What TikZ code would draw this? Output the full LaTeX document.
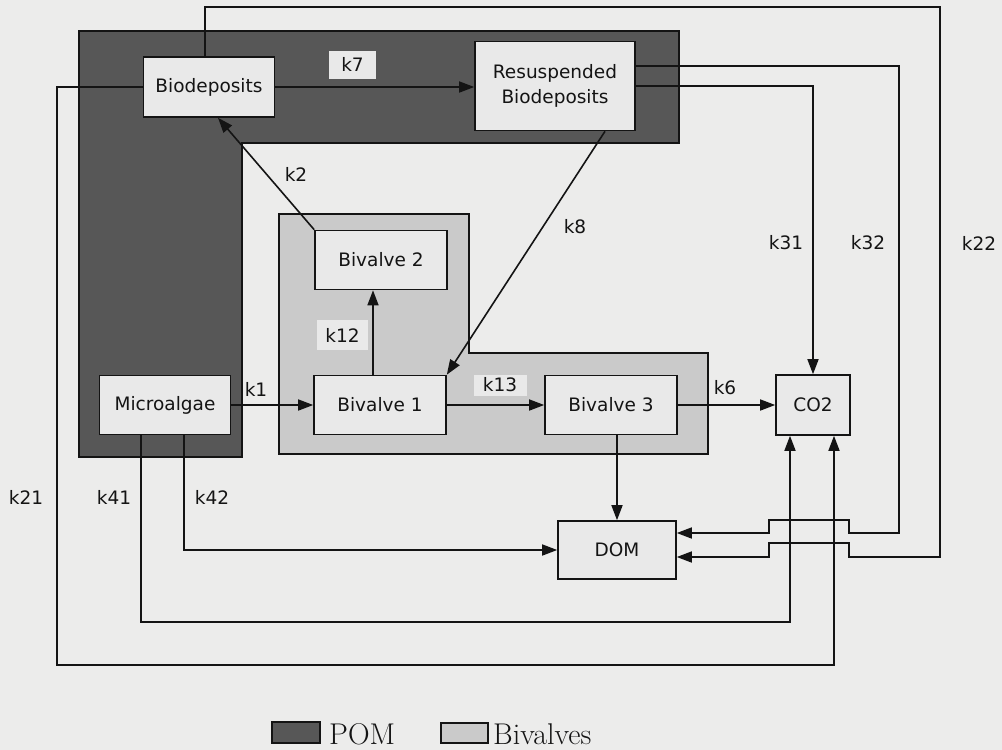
\documentclass[tikz,border=0pt]{standalone}
\usepackage{fontspec}
\setsansfont{DejaVu Sans}
\usetikzlibrary{arrows.meta}
\definecolor{bg}{HTML}{ECECEB}
\definecolor{pom}{HTML}{575757}
\definecolor{biv}{HTML}{CACACA}
\definecolor{boxf}{HTML}{E9E9E9}
\definecolor{ink}{HTML}{141414}
\begin{document}
\begin{tikzpicture}[x=1pt,y=-1pt,
  box/.style={draw=ink,line width=1.6pt,fill=boxf,font=\sffamily\fontsize{18.5}{25}\selectfont,align=center,inner sep=0pt,text=ink},
  lab/.style={font=\sffamily\fontsize{18.5}{20}\selectfont,inner sep=0pt,text=ink},
  labbg/.style={lab,fill=boxf},
  conn/.style={draw=ink,line width=1.6pt},
  arr/.style={conn,-{Triangle[length=15pt,width=11pt]}},
  region/.style={draw=ink,line width=1.4pt},
  swatch/.style={draw=ink,line width=1.5pt,inner sep=0pt}]
\useasboundingbox (0,0) rectangle (1002,750);
\fill[bg] (0,0) rectangle (1002,750);
% compartments
\draw[region,fill=pom] (79,31) -- (679,31) -- (679,143) -- (242,143) -- (242,457) -- (79,457) -- cycle;
\draw[region,fill=biv] (279,214) -- (469,214) -- (469,353) -- (708,353) -- (708,454) -- (279,454) -- cycle;
% boxes
\node[box,minimum width=131pt,minimum height=60pt] (bio) at (209,87) {Biodeposits};
\node[box,minimum width=160pt,minimum height=89pt] (res) at (555,86) {Resuspended\\Biodeposits};
\node[box,minimum width=132pt,minimum height=59pt] (bv2) at (381,260) {Bivalve 2};
\node[box,minimum width=132pt,minimum height=59pt] (bv1) at (380,405) {Bivalve 1};
\node[box,minimum width=132pt,minimum height=59pt] (bv3) at (611,405) {Bivalve 3};
\node[box,minimum width=131pt,minimum height=59pt] (mic) at (165,405) {Microalgae};
\node[box,minimum width=74pt,minimum height=60pt] (co2) at (813,405) {CO2};
\node[box,minimum width=118pt,minimum height=58pt] (dom) at (617,550) {DOM};
% helper coordinates
\coordinate (a12) at ([xshift=-7pt]bv1.north);
\coordinate (r32) at ([yshift=20pt]res.east);
\coordinate (t32) at ([yshift=17pt]dom.east);
\coordinate (b22) at ([xshift=-4pt]bio.north);
\coordinate (t22) at ([yshift=-7pt]dom.east);
\coordinate (e21) at ([xshift=21pt]co2.south);
\coordinate (s41) at ([xshift=-24pt]mic.south);
\coordinate (e41) at ([xshift=-23pt]co2.south);
\coordinate (s42) at ([xshift=19pt]mic.south);
% connectors
\draw[arr] (bio.east) -- (bio.east -| res.west);
\draw[arr] (bv2.north west) -- ([xshift=9pt]bio.south);
\draw[arr] ([xshift=50pt]res.south) -- (bv1.north east);
\draw[arr] (a12) -- (a12 |- bv2.south);
\draw[arr] (mic.east) -- (mic.east -| bv1.west);
\draw[arr] (bv1.east) -- (bv1.east -| bv3.west);
\draw[arr] (bv3.east) -- (bv3.east -| co2.west);
\draw[arr] (bv3.south -| dom.north) -- (dom.north);
\draw[arr] (res.east) -| (co2.north);
\draw[arr] (r32) -- (899,66) -- (899,533) -- (849,533) -- (849,520) -- (769,520) -- (769,533) -- (t32);
\draw[arr] (b22) |- (940,7) -- (940,557) -- (849,557) -- (849,543) -- (769,543) -- (769,557) -- (t22);
\draw[arr] (bio.west) -| (57,665) -| (e21);
\draw[arr] (s41) |- (790,622) -- (e41);
\draw[arr] (s42) |- (dom.west);
% labels
\node[labbg,minimum width=47pt,minimum height=28pt] (l7) at (352.5,64.5) {k7};
\node[lab] (l2) at (296,174) {k2};
\node[labbg,minimum width=51pt,minimum height=30pt] (l12) at (342.5,335) {k12};
\node[labbg,minimum width=53pt,minimum height=21pt] (l13) at (500,385) {k13};
\node[lab] (l1) at (256,389) {k1};
\node[lab] (l8) at (575,227) {k8};
\node[lab] (l6) at (725,388) {k6};
\node[lab] (l31) at (786,243) {k31};
\node[lab] (l32) at (868,243) {k32};
\node[lab] (l22) at (979,243) {k22};
\node[lab] (l21) at (26,497) {k21};
\node[lab] (l41) at (114,497) {k41};
\node[lab] (l42) at (212,497) {k42};
% legend
\node[swatch,fill=pom,minimum width=48pt,minimum height=21pt] (lp) at (296,732.5) {};
\node[anchor=base west,font=\fontsize{30}{32}\selectfont,inner sep=0pt,text=ink] (lpt) at (329,744) {POM};
\node[swatch,fill=biv,minimum width=47pt,minimum height=20pt] (lb) at (464.5,733) {};
\node[anchor=base west,font=\fontsize{30}{32}\selectfont,inner sep=0pt,text=ink] (lbt) at (493,744) {Bivalves};
\end{tikzpicture}
\end{document}
